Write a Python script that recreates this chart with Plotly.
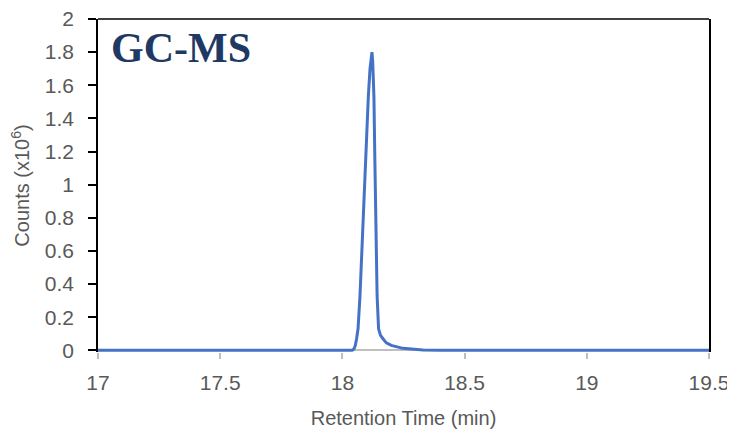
import plotly.graph_objects as go

# Retention time (min) and counts (x10^6)
retention_time = [17.0, 18.04, 18.048, 18.053, 18.058, 18.064, 18.072, 18.083, 18.094,
                  18.106, 18.113, 18.118, 18.121, 18.124, 18.127, 18.129, 18.133, 18.137,
                  18.142, 18.148, 18.156, 18.166, 18.18, 18.20, 18.248, 18.33, 18.40, 19.5]
counts = [0, 0, 0.01, 0.03, 0.07, 0.13, 0.33, 0.73, 1.13,
          1.53, 1.70, 1.78, 1.80, 1.74, 1.62, 1.53, 1.13, 0.73,
          0.33, 0.13, 0.09, 0.07, 0.045, 0.03, 0.012, 0.002, 0, 0]

x_ticks = [17, 17.5, 18, 18.5, 19, 19.5]
y_ticks = [0, 0.2, 0.4, 0.6, 0.8, 1, 1.2, 1.4, 1.6, 1.8, 2]

tick_font = dict(family="Liberation Sans, Arial, sans-serif", size=21, color="#595959")
title_font = dict(family="Liberation Sans, Arial, sans-serif", size=20, color="#595959")

fig = go.Figure()
fig.add_trace(go.Scatter(
    x=retention_time, y=counts, mode="lines",
    line=dict(color="#4472C4", width=3),
    showlegend=False,
))

# page body has an 8px default margin, so the figure is sized to fit within the window
fig.update_layout(
    width=727, height=425,
    margin=dict(l=90, r=26, t=11, b=81),
    paper_bgcolor="white", plot_bgcolor="white",
    xaxis=dict(
        range=[17, 19.5], tickvals=x_ticks, automargin=False,
        showline=False, showgrid=False, zeroline=False,
        ticks="outside", ticklen=6, tickcolor="#BFBFBF", tickwidth=1.5,
        tickfont=tick_font, ticklabelstandoff=6, ticklabeloverflow="allow",
        title=dict(text="Retention Time (min)", font=title_font, standoff=17),
    ),
    yaxis=dict(
        range=[-0.01, 2], tickvals=y_ticks, automargin=False,
        showline=True, linecolor="black", linewidth=1.5, mirror=True,
        showgrid=False, zeroline=True, zerolinecolor="#BFBFBF", zerolinewidth=1.5,
        ticks="outside", ticklen=8, tickcolor="black", tickwidth=1.5,
        tickfont=tick_font, ticklabelstandoff=10, ticklabeloverflow="allow",
        title=dict(text="Counts (x10<sup>6</sup>)", font=title_font, standoff=12),
    ),
    shapes=[dict(type="line", xref="paper", yref="paper", x0=0, x1=1, y0=1, y1=1,
                 line=dict(color="black", width=1.5))],
    annotations=[dict(
        text="<b>GC-MS</b>", xref="paper", yref="paper",
        x=0.018, y=0.914, xanchor="left", yanchor="middle", showarrow=False,
        font=dict(family="Liberation Serif, Times New Roman, serif", size=42, color="#203864"),
    )],
)

fig.write_html("out.html")
